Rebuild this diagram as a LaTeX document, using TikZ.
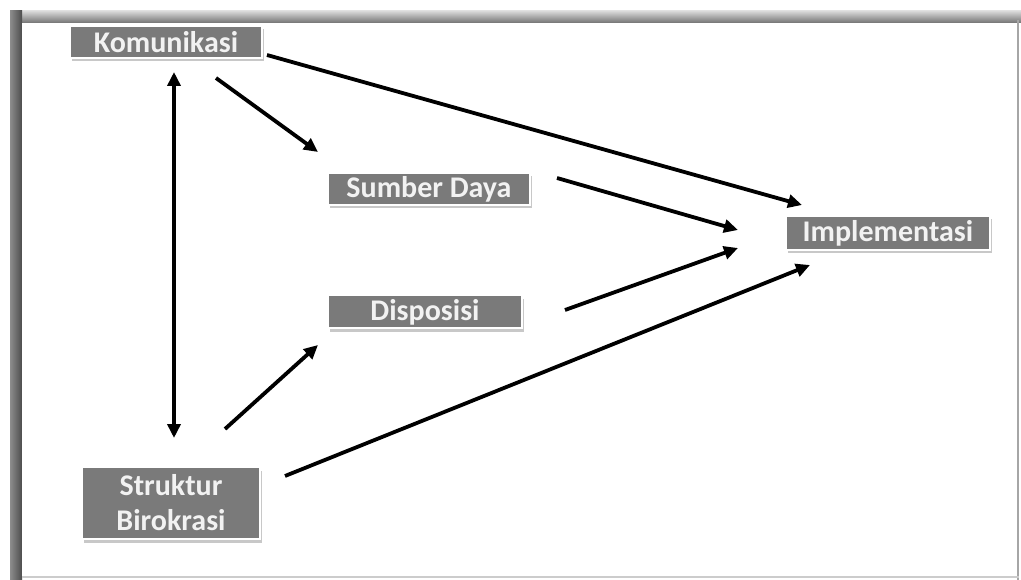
\documentclass[tikz,border=0pt]{standalone}
\usepackage{fontspec}
\newfontfamily\lblfont{Carlito}
\usetikzlibrary{arrows.meta,shadows}
\begin{document}
\begin{tikzpicture}[x=1pt,y=-1pt,
  box/.style={fill=black!52, draw=white, line width=2pt, text=black!5,
    font=\lblfont\bfseries\fontsize{30}{35}\selectfont, inner sep=0pt,
    align=center,
    drop shadow={opacity=0.3, shadow xshift=1.5pt, shadow yshift=-3.5pt, fill=black!70}},
  conn/.style={line width=3.8pt, -{Triangle[length=14pt,width=13pt]}},
  dconn/.style={line width=3.8pt, {Triangle[length=14pt,width=13pt]}-{Triangle[length=14pt,width=13pt]}}]
\useasboundingbox (0,0) rectangle (1021,580);
% frame
\fill[white] (0,0) rectangle (1021,580);
\shade[top color=black!15, bottom color=black!55] (10,11) rectangle (1021,23);
\shade[left color=black!45, right color=black!70] (10,11) rectangle (22,580);
\fill[black!35] (1017,20) rectangle (1019,580);
\fill[black!20] (22,576) rectangle (1019,578);
\fill[white] (22,23) rectangle (1017,576);
% nodes
\node[box, minimum width=192pt, minimum height=32pt] (kom) at (166,42) {Komunikasi};
\node[box, minimum width=202pt, minimum height=32pt] (sum) at (429,189) {Sumber Daya};
\node[box, minimum width=194pt, minimum height=33pt] (dis) at (425,312) {Disposisi};
\node[box, minimum width=204pt, minimum height=34pt] (imp) at (888,233) {Implementasi};
\node[box, minimum width=178pt, minimum height=72pt] (str) at (171,503) {Struktur\\Birokrasi};
% connector ends
\coordinate (k1) at (216,78);  \coordinate (s0) at (318,152);
\coordinate (k2) at (267,55);  \coordinate (i1) at (802,205);
\coordinate (s1) at (557,178); \coordinate (m1) at (738,230);
\coordinate (d1) at (565,310); \coordinate (m2) at (738,248);
\coordinate (b1) at (225,429); \coordinate (d0) at (318,345);
\coordinate (b2) at (285,476); \coordinate (i2) at (810,265);
\coordinate (v1) at (174,72);  \coordinate (v2) at (174,438);
% connectors
\draw[dconn] (v1) -- (v2);
\draw[conn] (k1) -- (s0);
\draw[conn] (k2) -- (i1);
\draw[conn] (s1) -- (m1);
\draw[conn] (d1) -- (m2);
\draw[conn] (b1) -- (d0);
\draw[conn] (b2) -- (i2);
\end{tikzpicture}
\end{document}
